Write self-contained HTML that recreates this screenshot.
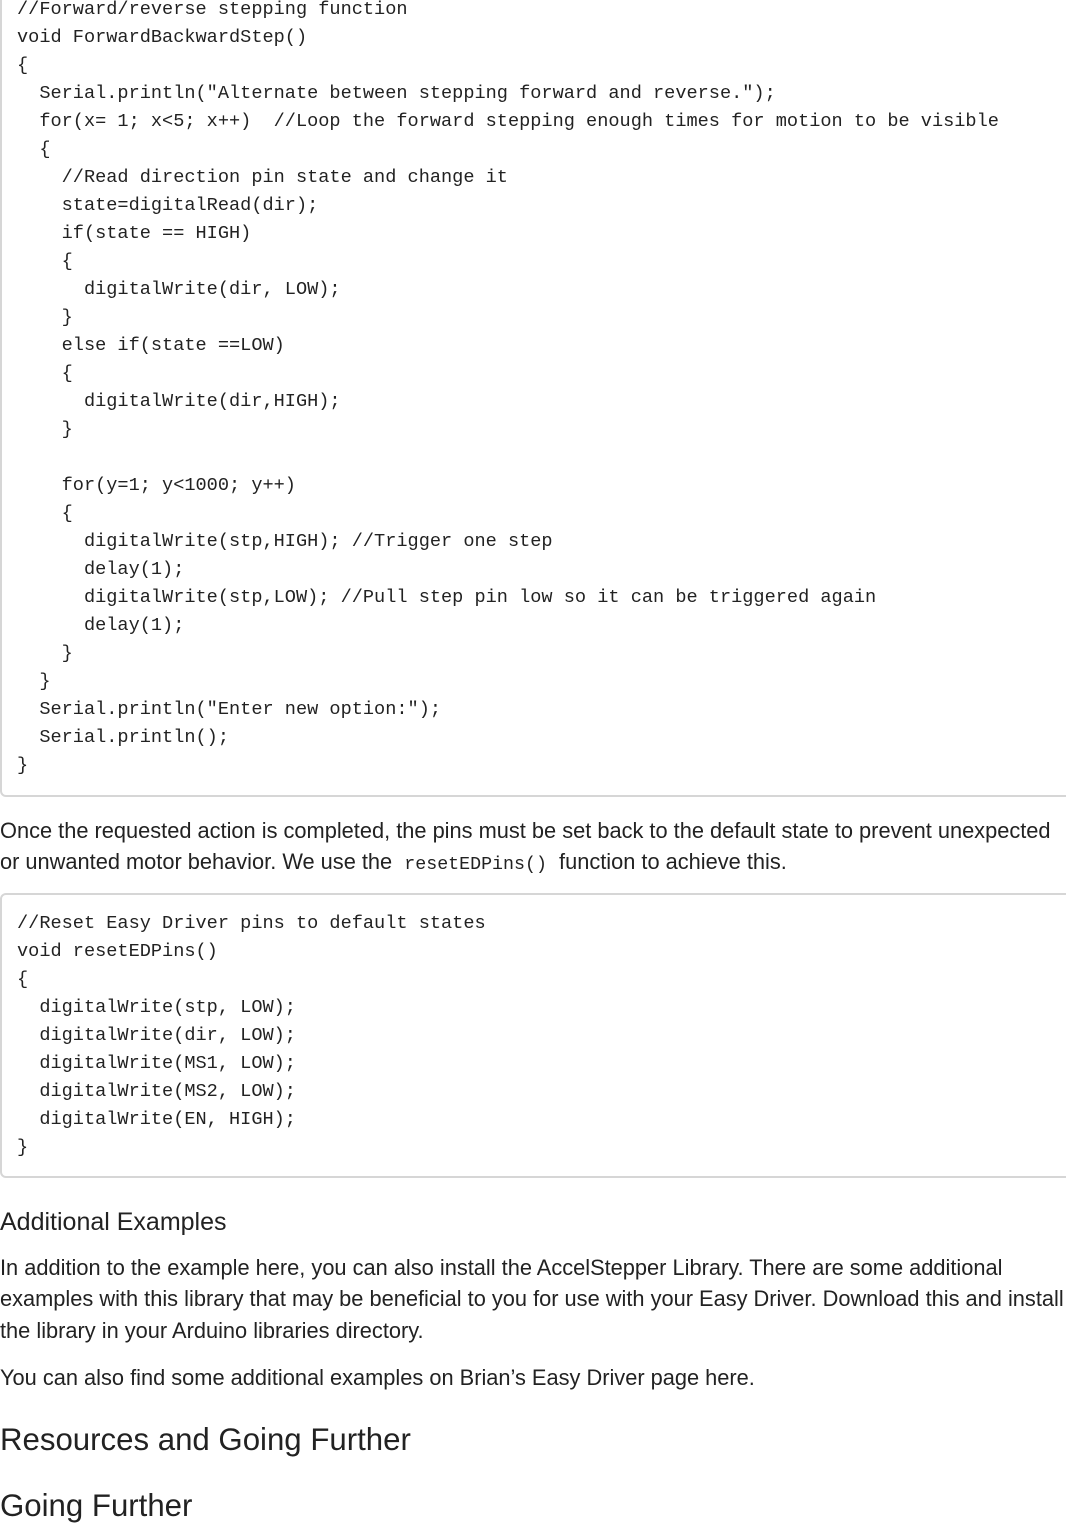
<!DOCTYPE html>
<html><head><meta charset="utf-8"><style>
body{margin:0;width:1066px;height:1524px;overflow:hidden;background:#fff;position:relative;font-family:"Liberation Sans",Arial,sans-serif;color:#222;}
.box{position:absolute;left:0;width:1080px;border:2px solid #d6d6d6;border-radius:6px;box-sizing:border-box;background:#fff;}
pre{position:absolute;left:17px;margin:0;font-family:"Liberation Mono",monospace;font-size:18.6px;line-height:28px;color:#222;}
.t{position:absolute;left:0;margin:0;font-size:21.8px;white-space:nowrap;}
code{font-family:"Liberation Mono",monospace;font-size:18.3px;}
</style></head><body>
<div class="box" style="top:-30px;height:827px"></div>
<pre style="top:-4px">//Forward/reverse stepping function
void ForwardBackwardStep()
{
  Serial.println("Alternate between stepping forward and reverse.");
  for(x= 1; x&lt;5; x++)  //Loop the forward stepping enough times for motion to be visible
  {
    //Read direction pin state and change it
    state=digitalRead(dir);
    if(state == HIGH)
    {
      digitalWrite(dir, LOW);
    }
    else if(state ==LOW)
    {
      digitalWrite(dir,HIGH);
    }

    for(y=1; y&lt;1000; y++)
    {
      digitalWrite(stp,HIGH); //Trigger one step
      delay(1);
      digitalWrite(stp,LOW); //Pull step pin low so it can be triggered again
      delay(1);
    }
  }
  Serial.println("Enter new option:");
  Serial.println();
}</pre>
<div class="t" style="top:818px">Once the requested action is completed, the pins must be set back to the default state to prevent unexpected</div>
<div class="t" style="top:849px">or unwanted motor behavior. We use the &nbsp;<code>resetEDPins()</code>&nbsp; function to achieve this.</div>
<div class="box" style="top:893px;height:285px"></div>
<pre style="top:910px">//Reset Easy Driver pins to default states
void resetEDPins()
{
  digitalWrite(stp, LOW);
  digitalWrite(dir, LOW);
  digitalWrite(MS1, LOW);
  digitalWrite(MS2, LOW);
  digitalWrite(EN, HIGH);
}</pre>
<div class="t" style="top:1208px;font-size:25px">Additional Examples</div>
<div class="t" style="top:1255px">In addition to the example here, you can also install the AccelStepper Library. There are some additional</div>
<div class="t" style="top:1286px">examples with this library that may be beneficial to you for use with your Easy Driver. Download this and install</div>
<div class="t" style="top:1318px">the library in your Arduino libraries directory.</div>
<div class="t" style="top:1365px">You can also find some additional examples on Brian’s Easy Driver page here.</div>
<div class="t" style="top:1422px;font-size:31.2px">Resources and Going Further</div>
<div class="t" style="top:1488px;font-size:31.2px">Going Further</div>
</body></html>
